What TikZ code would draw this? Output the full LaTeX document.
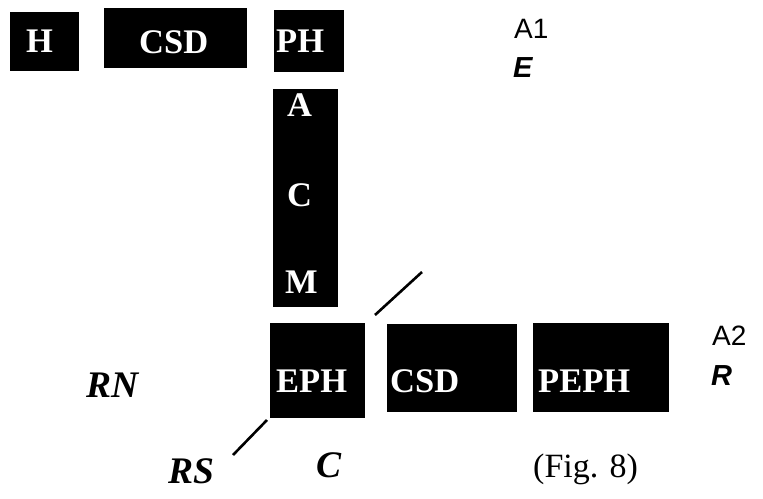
\documentclass[tikz,border=0pt]{standalone}
\usepackage{fontspec}
\setmainfont{Liberation Serif}
\newfontfamily\sansA{Liberation Sans}
\begin{document}
\begin{tikzpicture}[x=1pt,y=-1pt,
  blk/.style={fill=black,draw=none,inner sep=0pt,minimum width=#1},
  blk/.default=10pt,
  wt/.style={text=white,anchor=base west,inner sep=0pt,font=\fontsize{34.5}{38}\selectfont\bfseries},
  lab/.style={anchor=base west,inner sep=0pt,font=\fontsize{37.5}{40}\selectfont\bfseries\itshape},
  slab/.style={anchor=base west,inner sep=0pt,font=\sansA\fontsize{28}{30}\selectfont},
  sbi/.style={anchor=base west,inner sep=0pt,font=\sansA\fontsize{29}{30}\selectfont\bfseries\itshape},
  tick/.style={line width=2.6pt}]
\useasboundingbox (0,0) rectangle (763,498);
% boxes
\node[blk=69pt,minimum height=59pt] (H) at (44.5,41.5) {};
\node[blk=143pt,minimum height=60pt] (CSD1) at (175.5,38) {};
\node[blk=70pt,minimum height=62pt] (PH) at (309,41) {};
\node[blk=65pt,minimum height=218pt] (col) at (305.5,198) {};
\node[blk=95pt,minimum height=95pt] (EPH) at (317.5,370.5) {};
\node[blk=130pt,minimum height=88pt] (CSD2) at (452,368) {};
\node[blk=136pt,minimum height=89pt] (PEPH) at (601,367.5) {};
% box texts
\node[wt] (tH) at (26,52.5) {H};
\node[wt] (tCSD1) at (139,53.5) {CSD};
\node[wt] (tPH) at (276,52.5) {PH};
\node[wt] (tA) at (287,116) {A};
\node[wt] (tC) at (287,206.5) {C};
\node[wt] (tM) at (285,293) {M};
\node[wt] (tEPH) at (276,392.5) {EPH};
\node[wt] (tCSD2) at (390,392.5) {CSD};
\node[wt] (tPEPH) at (538,392.5) {PEPH};
% side labels
\node[slab] (A1) at (514,38.5) {A1};
\node[sbi] (E) at (513,77) {E};
\node[slab] (A2) at (712,345.5) {A2};
\node[sbi] (R) at (711,385) {R};
\node[lab] (RN) at (86,397.5) {RN};
\node[lab] (RS) at (168,483.5) {RS};
\node[lab] (Cl) at (316,477.5) {C};
\node[anchor=base west,inner sep=0pt,font=\fontsize{34}{36}\selectfont] (fig) at (533,477) {(Fig. 8)};
% tick lines
\coordinate (u1) at (375,315);
\coordinate (u2) at (422,272);
\coordinate (l1) at (233,455);
\coordinate (l2) at (267,420);
\draw[tick] (u1) -- (u2);
\draw[tick] (l1) -- (l2);
\end{tikzpicture}
\end{document}
